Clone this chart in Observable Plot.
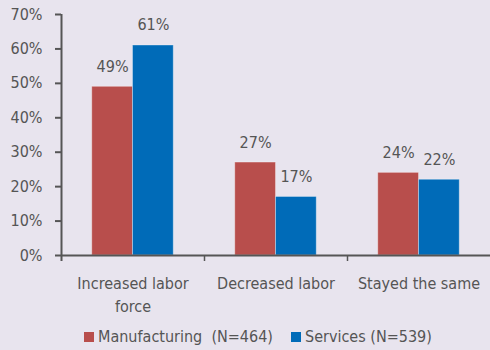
<!DOCTYPE html>
<html>
<head>
<meta charset="utf-8">
<script src="https://cdn.jsdelivr.net/npm/d3@7"></script>
<script src="https://cdn.jsdelivr.net/npm/@observablehq/plot@0.6"></script>
<style>
  html, body { margin: 0; padding: 0; background: #E8E4EE; }
  body { width: 490px; height: 350px; overflow: hidden; font-family: "Liberation Sans Narrow", "DejaVu Sans Condensed", sans-serif; color: #555; }
  #legend { display: flex; font-size: 16px; line-height: 20px; height: 30px; position: relative; }
  .item { display: flex; align-items: center; position: absolute; top: 7px; }
  .sw { width: 10px; height: 10px; margin-right: 4px; }
</style>
</head>
<body>
<div id="chart"></div>
<div id="legend"></div>
<script>
const categories = ["Increased labor\nforce", "Decreased labor", "Stayed the same"];
const seriesNames = ["Manufacturing  (N=464)", "Services (N=539)"];
const manufacturing = [49, 27, 24];
const services = [61, 17, 22];
const yTicks = [0, 10, 20, 30, 40, 50, 60, 70];
const colors = ["#B84E4C", "#006BB8"];

// grouped-bar layout within each category unit (fractions of a category band)
const groupInset = 0.215;
const barW = (1 - 2 * groupInset) / 2;

const rows = [];
categories.forEach((c, i) => {
  [manufacturing, services].forEach((vals, s) => {
    rows.push({cat: c, i, s, series: seriesNames[s], value: vals[i],
      x1: i + groupInset + s * barW, x2: i + groupInset + (s + 1) * barW});
  });
});
const catRows = categories.map((c, i) => ({cat: c, xc: i + 0.5}));
const boundaries = categories.map((c, i) => i).slice(1);

const font = `"Liberation Sans Narrow", "DejaVu Sans Condensed", sans-serif`;

const chart = Plot.plot({
  width: 490,
  height: 320,
  marginTop: 14,
  marginLeft: 61,
  marginRight: 0,
  marginBottom: 65,
  style: {background: "transparent", fontFamily: font, fontSize: "16px", color: "#555"},
  x: {domain: [0, categories.length], axis: null},
  y: {domain: [0, 70], axis: null, label: null},
  color: {domain: seriesNames, range: colors},
  marks: [
    Plot.rectY(rows, {x1: "x1", x2: "x2", y1: 0, y2: "value", fill: "series", stroke: "#fff", strokeOpacity: 0.35, strokeWidth: 1}),
    Plot.text(rows, {x: d => (d.x1 + d.x2) / 2, y: "value", text: d => d.value + "%", lineAnchor: "bottom", dy: -15, fill: "#555", fontSize: 16}),
    Plot.axisY({ticks: yTicks, tickFormat: d => d + "%", label: null, tickSize: 6, tickPadding: 13, stroke: "#555", strokeWidth: 2, fill: "#555", fontSize: 16}),
    Plot.ruleX([0], {stroke: "#555", strokeWidth: 2, y1: 70, y2: 0, insetBottom: -6}),
    Plot.ruleY([0], {stroke: "#555", strokeWidth: 2}),
    Plot.ruleX(boundaries, {x: d => d, y1: 0, y2: 0, stroke: "#555", strokeWidth: 1.5, insetBottom: -6}),
    Plot.text(catRows, {x: "xc", y: 0, text: "cat", lineAnchor: "top", dy: 17, fill: "#555", fontSize: 16, lineHeight: 1.45})
  ]
});
document.getElementById("chart").appendChild(chart);

const legend = document.getElementById("legend");
const legendX = [84, 291];
seriesNames.forEach((s, k) => {
  const item = document.createElement("div");
  item.className = "item";
  item.style.left = legendX[k] + "px";
  const sw = document.createElement("span");
  sw.className = "sw";
  sw.style.background = colors[k];
  const t = document.createElement("span");
  t.textContent = s;
  t.style.whiteSpace = "pre";
  item.appendChild(sw);
  item.appendChild(t);
  legend.appendChild(item);
});
</script>
</body>
</html>
